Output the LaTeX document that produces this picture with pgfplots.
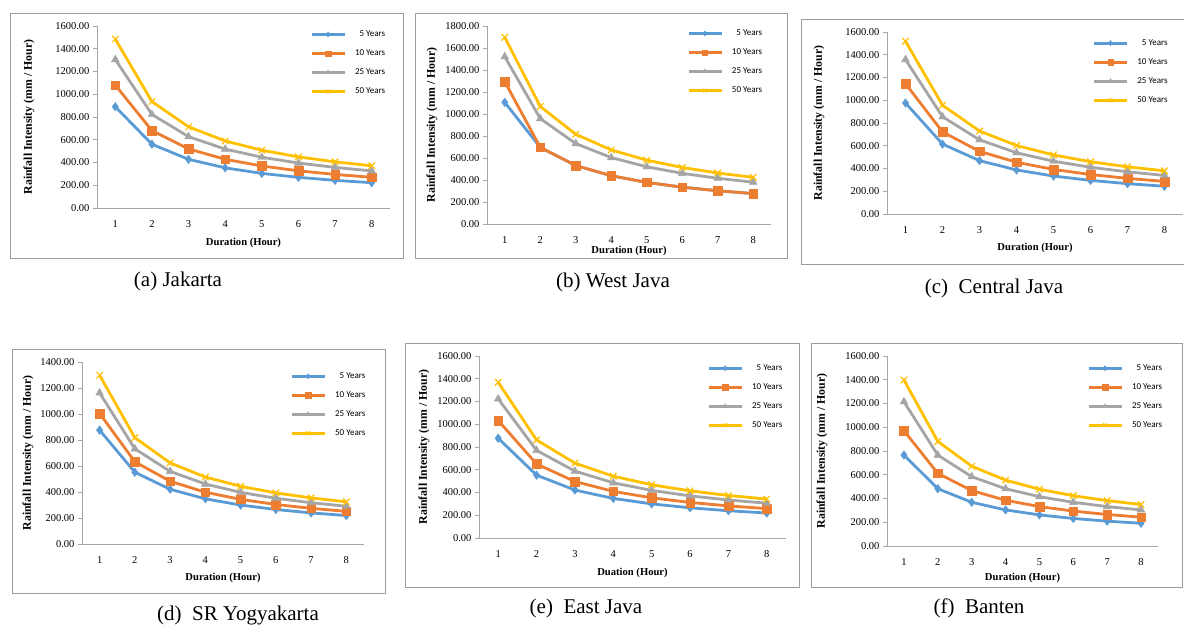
\documentclass[border=0pt]{standalone}
\usepackage{fontspec}
\setmainfont{Liberation Serif}
\newfontfamily\legfont{Carlito}
\usepackage{pgfplots}
\usepackage{pgfplotstable}
\pgfplotsset{compat=1.18}

\definecolor{c5}{HTML}{5B9BD5}
\definecolor{c10}{HTML}{ED7D31}
\definecolor{c25}{HTML}{A5A5A5}
\definecolor{c50}{HTML}{FFC000}
\definecolor{axgray}{HTML}{A6A6A6}
\definecolor{boxgray}{HTML}{9C9C9C}

\newcommand{\tickfont}{\fontsize{10.5}{10.5}\selectfont}
\newcommand{\xlabfont}{\bfseries\fontsize{10.6}{10.6}\selectfont}
\newcommand{\ylabfont}{\bfseries\fontsize{11.8}{11.8}\selectfont}
\newcommand{\legtext}{\legfont\fontsize{9}{9}\selectfont}

% rainfall intensity (mm/hour) against duration, return periods 5/10/25/50 years
\pgfplotstableread{
t  y5    y10    y25    y50
1  890   1080   1305   1485
2  560.7 680.4  822.1  935.5
3  427.9 519.2  627.4  713.9
4  353.2 428.6  517.9  589.3
5  304.4 369.4  446.3  507.9
6  269.5 327.1  395.2  449.7
7  243.2 295.1  356.6  405.8
8  222.5 270.0  326.3  371.3
}\jakarta

\pgfplotstableread{
t  y5    y10    y25    y50
1  1106  1294   1521   1697
2  696.7 696.7  958.2  1069.0
3  531.7 531.7  731.2  815.8
4  438.9 438.9  603.6  673.5
5  378.3 378.3  520.2  580.4
6  335.0 335.0  460.6  513.9
7  302.2 302.2  415.6  463.7
8  276.5 276.5  380.3  424.3
}\westjava

\pgfplotstableread{
t  y5    y10    y25    y50
1  976   1146   1357   1518
2  614.8 721.9  854.9  956.3
3  469.2 550.9  652.4  729.8
4  387.3 454.8  538.5  602.4
5  333.8 391.9  464.1  519.2
6  295.6 347.1  411.0  459.7
7  266.7 313.2  370.8  414.8
8  244.0 286.5  339.3  379.5
}\centraljava

\pgfplotstableread{
t  y5    y10    y25    y50
1  876   1004   1162   1298
2  551.8 632.5  732.0  817.7
3  421.1 482.7  558.6  624.0
4  347.6 398.4  461.1  515.1
5  299.6 343.4  397.4  443.9
6  265.3 304.1  351.9  393.1
7  239.4 274.4  317.5  354.7
8  219.0 251.0  290.5  324.5
}\yogya

\pgfplotstableread{
t  y5    y10    y25    y50
1  877   1033   1223   1369
2  552.5 650.8  770.4  862.4
3  421.6 496.6  588.0  658.1
4  348.0 409.9  485.3  543.3
5  299.9 353.3  418.3  468.2
6  265.6 312.8  370.4  414.6
7  239.7 282.3  334.2  374.1
8  219.3 258.3  305.8  342.3
}\eastjava

\pgfplotstableread{
t  y5    y10    y25    y50
1  766   971    1215   1398
2  482.5 611.7  765.4  880.7
3  368.3 466.8  584.1  672.1
4  304.0 385.3  482.2  554.8
5  262.0 332.1  415.5  478.1
6  232.0 294.1  368.0  423.4
7  209.3 265.3  332.0  382.0
8  191.5 242.8  303.8  349.5
}\banten

\pgfplotsset{
  panel/.style={
    scale only axis, anchor=south west,
    xmin=0.5, xmax=8.5, ymin=0, xtick={1,...,8},
    axis x line*=bottom, axis y line*=left,
    axis line style={draw=axgray, line width=0.9pt},
    tick align=outside, major tick length=4pt,
    xtick style={draw=none},
    ytick style={draw=axgray, line width=0.9pt},
    /pgf/number format/assume math mode=true,
    yticklabel style={font=\tickfont},
    xticklabel style={font=\tickfont, yshift=-5pt},
    y tick label style={/pgf/number format/.cd, fixed, fixed zerofill,
      precision=2, 1000 sep={}},
    xlabel={Duration (Hour)},
    ylabel={Rainfall Intensity (mm / Hour)},
    legend cell align=left,
    legend style={anchor=north west, draw=none, fill=none, inner sep=0pt,
      row sep=11.7pt, column sep=9pt, font=\legtext,
      nodes={inner sep=0pt, font=\legtext}},
    legend image code/.code={
      \draw[mark repeat=2, mark phase=2, ##1, mark size=2.6pt]
        plot coordinates {(0pt,0pt) (16.5pt,0pt) (33pt,0pt)};},
  },
  xlab/.style={every axis x label/.style={at={(axis description cs:0.5,0)},
      anchor=center, yshift=-#1pt, font=\xlabfont}},
  ylab/.style={every axis y label/.style={at={(axis description cs:0,0.5)},
      xshift=-#1pt, anchor=center, rotate=90, font=\ylabfont}},
  s5/.style={color=c5, line width=2.8pt, mark=diamond*, mark size=4.3pt,
    mark options={solid, fill=c5, line width=0.4pt}},
  s10/.style={color=c10, line width=2.8pt, mark=square*, mark size=4.3pt,
    mark options={solid, fill=c10, line width=0.4pt}},
  s25/.style={color=c25, line width=2.8pt, mark=triangle*, mark size=4.5pt,
    mark options={solid, fill=c25, line width=0.4pt}},
  s50/.style={color=c50, line width=2.8pt, mark=x, mark size=4.6pt,
    mark options={solid, line width=1.2pt}},
}

\newcommand{\fourseries}[1]{%
  \addplot[s5] table[x=t, y=y5] {#1};
  \addlegendentry{\phantom{1}5 Years}
  \addplot[s10] table[x=t, y=y10] {#1};
  \addlegendentry{10 Years}
  \addplot[s25] table[x=t, y=y25] {#1};
  \addlegendentry{25 Years}
  \addplot[s50] table[x=t, y=y50] {#1};
  \addlegendentry{50 Years}
}

\begin{document}
\begin{tikzpicture}
\useasboundingbox (0pt,0pt) rectangle (1184pt,-625pt);

% frames
\draw[boxgray, line width=0.9pt] (10pt,-13pt) rectangle (403pt,-258pt);
\draw[boxgray, line width=0.9pt] (415pt,-13pt) rectangle (787pt,-258pt);
\draw[boxgray, line width=0.9pt] (1190pt,-19pt) -- (801pt,-19pt) -- (801pt,-264pt) -- (1190pt,-264pt);
\draw[boxgray, line width=0.9pt] (12pt,-349pt) rectangle (385pt,-593pt);
\draw[boxgray, line width=0.9pt] (405pt,-343pt) rectangle (799pt,-587pt);
\draw[boxgray, line width=0.9pt] (811pt,-343pt) rectangle (1182pt,-587pt);

% (a) Jakarta
\begin{axis}[panel, at={(97pt,-208pt)}, width=293pt, height=182pt,
  ymax=1600, ytick distance=200, xlab=35, ylab=68,
  legend style={at={(0.727,0.975)}}]
\fourseries{\jakarta}
\end{axis}

% (b) West Java
\begin{axis}[panel, at={(487pt,-224pt)}, width=284pt, height=198pt,
  ymax=1800, ytick distance=200, xlab=27, ylab=55,
  legend style={at={(0.704,0.982)}}]
\fourseries{\westjava}
\end{axis}

% (c) Central Java
\begin{axis}[panel, at={(887pt,-214pt)}, width=296pt, height=182pt,
  ymax=1600, ytick distance=200, xlab=34, ylab=68,
  legend style={at={(0.694,0.960)}}]
\fourseries{\centraljava}
\end{axis}

% (d) SR Yogyakarta
\begin{axis}[panel, at={(82pt,-544pt)}, width=282pt, height=182pt,
  ymax=1400, ytick distance=200, xlab=34, ylab=54,
  legend style={at={(0.738,0.943)}}]
\fourseries{\yogya}
\end{axis}

% (e) East Java
\begin{axis}[panel, at={(479pt,-538pt)}, width=307pt, height=182pt,
  ymax=1600, ytick distance=200, xlab=35, ylab=55,
  xlabel={Duation (Hour)},
  legend style={at={(0.743,0.954)}}]
\fourseries{\eastjava}
\end{axis}

% (f) Banten
\begin{axis}[panel, at={(887pt,-546pt)}, width=271pt, height=190pt,
  ymax=1600, ytick distance=200, xlab=32, ylab=65,
  legend style={at={(0.738,0.956)}}]
\fourseries{\banten}
\end{axis}

% captions
\begin{scope}[every node/.style={anchor=base, font=\fontsize{21}{21}\selectfont}]
\node at (178pt,-286pt) {(a) Jakarta};
\node at (613pt,-287pt) {(b) West Java};
\node at (994pt,-293pt) {(c)\ \ Central Java};
\node at (238pt,-620pt) {(d)\ \ SR Yogyakarta};
\node at (586pt,-613pt) {(e)\ \ East Java};
\node at (979pt,-613pt) {(f)\ \ Banten};
\end{scope}
\end{tikzpicture}
\end{document}
